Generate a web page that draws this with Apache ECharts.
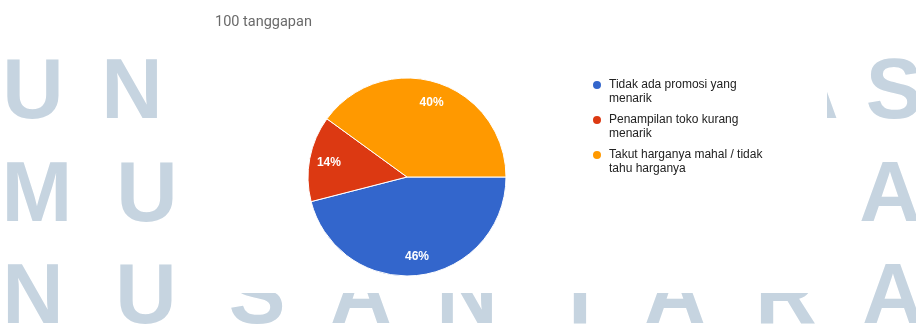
<!DOCTYPE html>
<html>
<head>
<meta charset="utf-8">
<script src="https://cdn.jsdelivr.net/npm/echarts@6/dist/echarts.min.js"></script>
<style>
html,body{margin:0;padding:0;background:#fff;}
#chart{width:916px;height:327px;}
</style>
</head>
<body>
<div id="chart"></div>
<script>
// ---- data ----
var categories = ['Tidak ada promosi yang menarik', 'Penampilan toko kurang menarik', 'Takut harganya mahal / tidak tahu harganya'];
var values = [46, 14, 40];
var colors = ['#3366cc', '#dc3912', '#ff9900'];
var subtitle = '100 tanggapan';
// watermark rows (decorative background text)
var wmRow1 = ['U', 'N', 'A', 'S'];
var wmRow2 = ['M', 'U', 'A'];
var wmRow3 = ['N', 'U', 'S', 'A', 'N', 'T', 'A', 'R', 'A'];

var wmX1 = [33, 132, 808, 894];
var wmX2 = [37, 147, 890];
var wmX3 = [33, 146, 257, 361, 467, 580, 675, 786, 893];
var wmY = [95, 198, 300];

var graphics = [];
function addRow(letters, xs, y) {
  letters.forEach(function (ch, i) {
    graphics.push({
      type: 'text', z: 0, silent: true,
      x: xs[i], y: y,
      style: {
        text: ch, fill: '#c6d4e0',
        font: 'bold 85px "Liberation Sans", Arial, sans-serif',
        textAlign: 'center', textVerticalAlign: 'middle'
      }
    });
  });
}
addRow(wmRow1, wmX1, wmY[0]);
addRow(wmRow2, wmX2, wmY[1]);
addRow(wmRow3, wmX3, wmY[2]);
graphics.push({
  type: 'rect', z: 1, silent: true,
  shape: { x: 197, y: 0, width: 630, height: 293 },
  style: { fill: '#ffffff' }
});
graphics.push({
  type: 'text', z: 2, silent: true,
  x: 215, y: 22,
  style: {
    text: subtitle, fill: '#6a6a6a',
    font: '14.5px Roboto, "Noto Sans", sans-serif',
    textAlign: 'left', textVerticalAlign: 'middle'
  }
});

var pieData = categories.map(function (c, i) {
  return { name: c, value: values[i], itemStyle: { color: colors[i] } };
});

var chart = echarts.init(document.getElementById('chart'), null, { renderer: 'canvas' });
chart.setOption({
  animation: false,
  graphic: graphics,
  legend: {
    orient: 'vertical',
    left: 586,
    top: 59,
    itemGap: -7,
    itemWidth: 10,
    itemHeight: 10,
    icon: 'circle',
    data: categories,
    formatter: function (name) { return '\n' + name; },
    textStyle: {
      fontFamily: '"Liberation Sans", Arial, sans-serif',
      fontSize: 12,
      color: '#222222',
      lineHeight: 14,
      width: 162,
      overflow: 'break',
      padding: [0, 0, 0, 2]
    }
  },
  series: [
    {
      type: 'pie',
      center: [407, 177],
      radius: [0, 99],
      startAngle: 0,
      clockwise: true,
      avoidLabelOverlap: false,
      silent: true,
      z: 3,
      itemStyle: { borderColor: '#ffffff', borderWidth: 1 },
      label: { show: false },
      labelLine: { show: false },
      data: pieData
    },
    {
      type: 'pie',
      center: [407, 178],
      radius: [53, 100],
      startAngle: 0,
      clockwise: true,
      avoidLabelOverlap: false,
      silent: true,
      z: 4,
      itemStyle: { color: 'rgba(0,0,0,0)', borderWidth: 0 },
      label: {
        show: true,
        position: 'inside',
        color: '#ffffff',
        fontWeight: 'bold',
        fontSize: 12,
        fontFamily: '"Liberation Sans", Arial, sans-serif',
        formatter: function (p) { return Math.round(p.percent) + '%'; }
      },
      labelLine: { show: false },
      data: categories.map(function (c, i) { return { name: c, value: values[i] }; })
    }
  ]
});
</script>
</body>
</html>
